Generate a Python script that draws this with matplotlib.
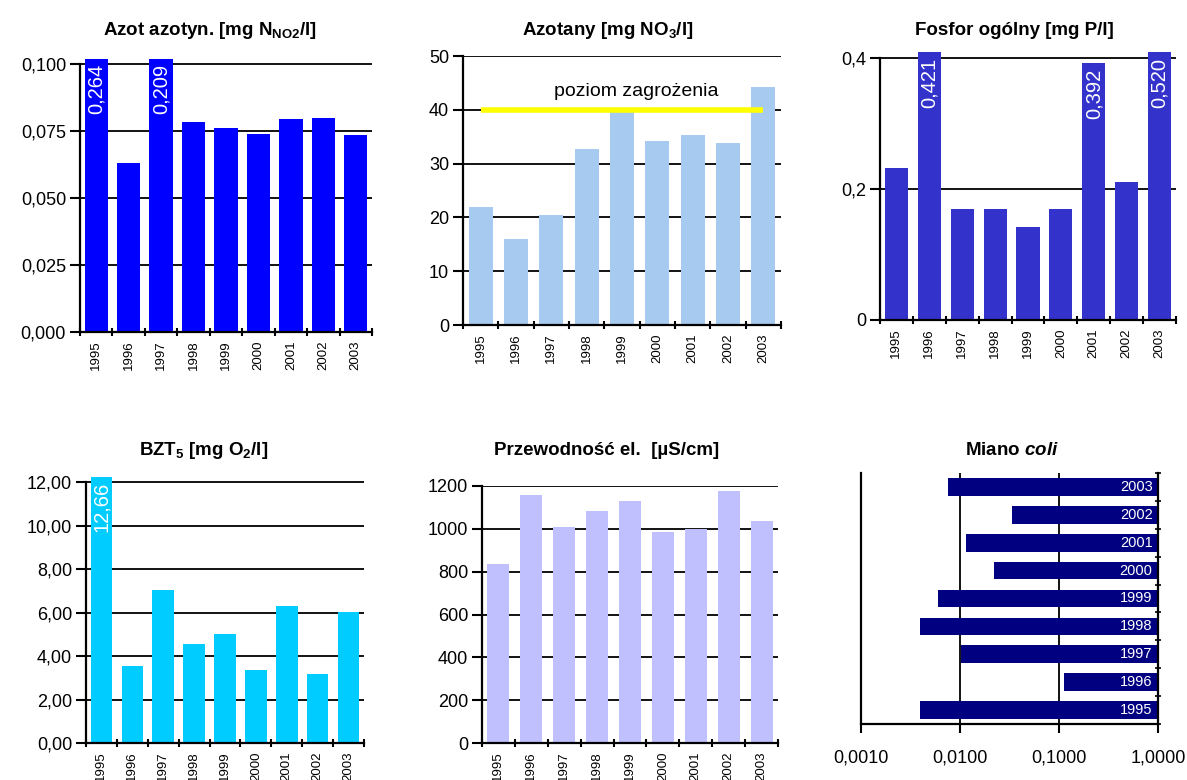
import matplotlib
matplotlib.use('Agg')
import matplotlib.pyplot as plt
from matplotlib.ticker import FuncFormatter, NullLocator
import numpy as np

plt.rcParams['font.family'] = ['Liberation Sans', 'DejaVu Sans']
plt.rcParams['mathtext.fontset'] = 'custom'
plt.rcParams['mathtext.rm'] = 'Liberation Sans'
plt.rcParams['mathtext.bf'] = 'Liberation Sans:bold'
plt.rcParams['mathtext.it'] = 'Liberation Sans:bold:italic'

lata = ['1995', '1996', '1997', '1998', '1999', '2000', '2001', '2002', '2003']
azot_azotyn = [0.264, 0.0629, 0.209, 0.0785, 0.0762, 0.0740, 0.0794, 0.0800, 0.0734]
azotany = [21.9, 16.0, 20.4, 32.7, 39.8, 34.2, 35.3, 33.8, 44.2]
poziom_zagrozenia = 40
fosfor = [0.232, 0.421, 0.169, 0.169, 0.142, 0.169, 0.392, 0.210, 0.520]
bzt5 = [12.66, 3.53, 7.03, 4.54, 5.00, 3.35, 6.29, 3.16, 6.02]
przewodnosc = [835, 1158, 1008, 1083, 1130, 986, 999, 1177, 1036]
miano_coli = [0.0039, 0.112, 0.0103, 0.0039, 0.0060, 0.0220, 0.0115, 0.0334, 0.0076]

W, H = 1187, 780
fig = plt.figure(figsize=(W / 100, H / 100), dpi=100)


def px(left, top, right, bottom):
    # prostokat osi w pikselach -> ulamki figury
    return [left / W, 1 - bottom / H, (right - left) / W, (bottom - top) / H]


def przecinek(fmt):
    return FuncFormatter(lambda v, pos: (fmt % v).replace('.', ','))


def wykres(rect, wartosci, kolor, yticks, ymax, fmt, szer, podpisy=(), fmt_podpisu='%.3f'):
    ax = fig.add_axes(rect)
    x = np.arange(len(lata))
    ax.bar(x, wartosci, width=szer, color=kolor, zorder=2)
    ax.set_xlim(-0.5, len(lata) - 0.5)
    ax.set_ylim(0, ymax)
    ax.set_yticks(yticks)
    ax.yaxis.set_major_formatter(przecinek(fmt))
    ax.grid(axis='y', color='black', lw=1.3)
    ax.set_axisbelow(True)
    for s in ['top', 'right']:
        ax.spines[s].set_visible(False)
    ax.spines['left'].set_bounds(0, yticks[-1])
    ax.spines['left'].set_linewidth(1.6)
    ax.spines['bottom'].set_linewidth(1.6)
    ax.tick_params(axis='y', direction='out', length=7, width=1.5, labelsize=13, pad=3)
    ax.set_xticks(x)
    ax.set_xticklabels(lata, rotation=90, fontsize=9.5)
    ax.set_xticks(np.arange(-0.5, len(lata), 1), minor=True)
    ax.tick_params(axis='x', which='major', length=0, pad=6)
    ax.tick_params(axis='x', which='minor', direction='inout', length=6, width=1.5)
    for i in podpisy:
        ax.annotate((fmt_podpisu % wartosci[i]).replace('.', ','),
                    xy=(i, min(wartosci[i], ymax)), xytext=(0, -4),
                    textcoords='offset points', rotation=90, ha='center', va='top',
                    color='white', fontsize=14.5)
    return ax


wykres(px(80, 58.6, 372, 332), azot_azotyn, '#0000FF',
       [0, 0.025, 0.05, 0.075, 0.1], 0.102, '%.3f', 0.72, podpisy=(0, 2))

ax2 = wykres(px(463, 56, 781, 325), azotany, '#A6CAF0',
             [0, 10, 20, 30, 40, 50], 50, '%d', 0.67)
ax2.plot([0, 8], [poziom_zagrozenia, poziom_zagrozenia], color='#FFFF00', lw=4,
         solid_capstyle='butt', zorder=3)
ax2.text(4.4, 43.4, 'poziom zagrożenia', ha='center', va='center', fontsize=14)

wykres(px(880, 52.1, 1176, 320), fosfor, '#3333CC',
       [0, 0.2, 0.4], 0.409, '%g', 0.7, podpisy=(1, 6, 8))

wykres(px(86, 476.6, 364, 743), bzt5, '#00CCFF',
       [0, 2, 4, 6, 8, 10, 12], 12.25, '%.2f', 0.7, podpisy=(0,), fmt_podpisu='%.2f')

wykres(px(482, 486, 778, 743), przewodnosc, '#C0C0FF',
       [0, 200, 400, 600, 800, 1000, 1200], 1200, '%d', 0.67)

# miano coli - slupki poziome od 1,0 w lewo, skala logarytmiczna
ax6 = fig.add_axes(px(861, 473, 1158, 724))
y = np.arange(len(lata))
ax6.set_xscale('log')
ax6.barh(y, [1 - v for v in miano_coli], left=miano_coli, height=0.63,
         color='#000080', zorder=2)
ax6.set_xlim(0.001, 1)
ax6.set_ylim(-0.5, len(lata) - 0.5)
ax6.set_xticks([0.001, 0.01, 0.1, 1])
ax6.set_xticklabels(['0,0010', '0,0100', '0,1000', '1,0000'])
ax6.xaxis.set_minor_locator(NullLocator())
ax6.grid(axis='x', color='black', lw=1.3)
ax6.set_axisbelow(True)
ax6.spines['top'].set_visible(False)
for s in ['left', 'right', 'bottom']:
    ax6.spines[s].set_linewidth(1.6)
ax6.tick_params(axis='x', direction='out', length=6.5, width=1.5, labelsize=13, pad=12)
ax6.yaxis.tick_right()
ax6.set_yticks([])
ax6.set_yticks(np.arange(-0.5, len(lata), 1), minor=True)
ax6.tick_params(axis='y', which='minor', direction='inout', length=5, width=1.2)
for i, rok in enumerate(lata):
    ax6.text(0.88, i, rok, color='white', ha='right', va='center', fontsize=10.5)

tytuly = [
    (210, 35, r'Azot azotyn. [mg N$_\mathregular{NO2}$/l]'),
    (608, 35, r'Azotany [mg NO$_\mathregular{3}$/l]'),
    (1014, 35, 'Fosfor ogólny [mg P/l]'),
    (204, 455, r'BZT$_\mathregular{5}$ [mg O$_\mathregular{2}$/l]'),
    (607, 455, 'Przewodność el.  [µS/cm]'),
    (1012, 455, r'Miano $\mathit{coli}$'),
]
for tx, ty, t in tytuly:
    fig.text(tx / W, 1 - ty / H, t, ha='center', va='baseline',
             fontsize=13.5, fontweight='bold')

fig.savefig('out.png', dpi=100)
